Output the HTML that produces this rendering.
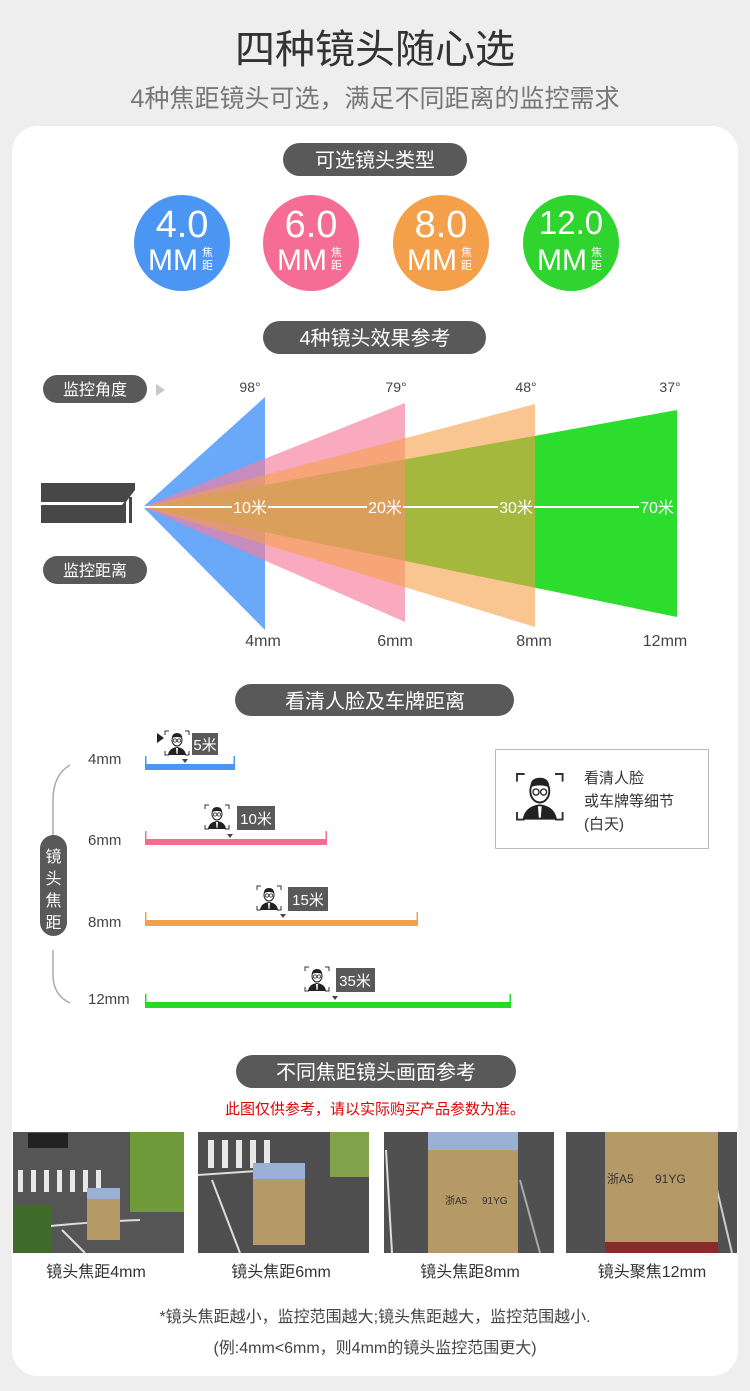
<!DOCTYPE html>
<html><head><meta charset="utf-8"><style>
html,body{margin:0;padding:0;background:#eeeeee;}
svg{display:block;}
text{font-family:"Liberation Sans","Noto Sans CJK SC",sans-serif;}
</style></head><body>
<svg width="750" height="1391" viewBox="0 0 750 1391" xmlns="http://www.w3.org/2000/svg">
<rect x="0" y="0" width="750" height="1391" fill="#eeeeee"/>
<text x="375" y="63" font-size="40" fill="#333" text-anchor="middle">四种镜头随心选</text>
<text x="375" y="107" font-size="25" fill="#777" text-anchor="middle">4种焦距镜头可选，满足不同距离的监控需求</text>
<rect x="12" y="126" width="726" height="1250" rx="26" fill="#fff"/>

<rect x="283" y="143" width="184" height="33" rx="16.5" fill="#595959"/>
<text x="375" y="167" font-size="20" fill="#fff" text-anchor="middle">可选镜头类型</text>
<g fill="#fff">
<circle cx="182" cy="243" r="48" fill="#4b96f3"/>
<circle cx="311" cy="243" r="48" fill="#f56d94"/>
<circle cx="441" cy="243" r="48" fill="#f4a04b"/>
<circle cx="571" cy="243" r="48" fill="#2fd42f"/>
<text x="182" y="237" font-size="38" text-anchor="middle">4.0</text>
<text x="311" y="237" font-size="38" text-anchor="middle">6.0</text>
<text x="441" y="237" font-size="38" text-anchor="middle">8.0</text>
<text x="571" y="234" font-size="33" text-anchor="middle">12.0</text>
<text x="148" y="270" font-size="30">MM</text><text x="202" y="256" font-size="11">焦</text><text x="202" y="269" font-size="11">距</text>
<text x="277" y="270" font-size="30">MM</text><text x="331" y="256" font-size="11">焦</text><text x="331" y="269" font-size="11">距</text>
<text x="407" y="270" font-size="30">MM</text><text x="461" y="256" font-size="11">焦</text><text x="461" y="269" font-size="11">距</text>
<text x="537" y="270" font-size="30">MM</text><text x="591" y="256" font-size="11">焦</text><text x="591" y="269" font-size="11">距</text>
</g>

<rect x="263" y="321" width="223" height="33" rx="16.5" fill="#595959"/>
<text x="375" y="345" font-size="20" fill="#fff" text-anchor="middle">4种镜头效果参考</text>

<rect x="43" y="375" width="104" height="28" rx="14" fill="#595959"/>
<text x="95" y="395" font-size="16" fill="#fff" text-anchor="middle">监控角度</text>
<polygon points="156,384 165,390 156,396" fill="#c8c8c8"/>
<rect x="43" y="556" width="104" height="28" rx="14" fill="#595959"/>
<text x="95" y="576" font-size="16" fill="#fff" text-anchor="middle">监控距离</text>
<polygon points="41,483 135,483 135,490 126,502 41,502" fill="#474747"/>
<polygon points="41,505 122,505 126,500 126,523 41,523" fill="#474747"/>
<rect x="129" y="497" width="3" height="26" fill="#474747"/>

<polygon points="143,507 265,397 265,630" fill="#6aa9fa"/>
<polygon points="143,507 677,410 677,617" fill="#2ddd2d"/>
<polygon points="143,507 405,403 405,622" fill="#f77c9c" fill-opacity="0.65"/>
<polygon points="143,507 535,404 535,627" fill="#f5a04a" fill-opacity="0.6"/>
<g stroke="#fff" stroke-width="2">
<line x1="143" y1="507" x2="232" y2="507"/><line x1="268" y1="507" x2="367" y2="507"/>
<line x1="403" y1="507" x2="498" y2="507"/><line x1="534" y1="507" x2="639" y2="507"/>
</g>
<g font-size="16" fill="#fff" text-anchor="middle">
<text x="250" y="513">10米</text><text x="385" y="513">20米</text><text x="516" y="513">30米</text><text x="657" y="513">70米</text>
</g>
<g font-size="14" fill="#444" text-anchor="middle">
<text x="250" y="392">98°</text><text x="396" y="392">79°</text><text x="526" y="392">48°</text><text x="670" y="392">37°</text>
</g>
<g font-size="16" fill="#444" text-anchor="middle">
<text x="263" y="646">4mm</text><text x="395" y="646">6mm</text><text x="534" y="646">8mm</text><text x="665" y="646">12mm</text>
</g>

<rect x="235" y="684" width="279" height="32" rx="16" fill="#595959"/>
<text x="375" y="708" font-size="20" fill="#fff" text-anchor="middle">看清人脸及车牌距离</text>

<path d="M70,765 Q53,775 53,800 L53,856" stroke="#aaa" stroke-width="1.5" fill="none"/>
<path d="M53,950 L53,975 Q53,995 70,1003" stroke="#aaa" stroke-width="1.5" fill="none"/>
<rect x="40" y="835" width="27" height="101" rx="13.5" fill="#595959"/>
<g font-size="16" fill="#fff" text-anchor="middle">
<text x="53.5" y="862">镜</text><text x="53.5" y="884">头</text><text x="53.5" y="906">焦</text><text x="53.5" y="928">距</text>
</g>
<g font-size="15" fill="#444">
<text x="88" y="764">4mm</text><text x="88" y="845">6mm</text><text x="88" y="927">8mm</text><text x="88" y="1004">12mm</text>
</g>
<rect x="145" y="764" width="90" height="6" fill="#4b96f3"/><rect x="145" y="756" width="1.5" height="14" fill="#4b96f3"/><rect x="233.5" y="756" width="1.5" height="14" fill="#4b96f3"/>
<rect x="145" y="839" width="182" height="6" fill="#f56d8d"/><rect x="145" y="831" width="1.5" height="14" fill="#f56d8d"/><rect x="325.5" y="831" width="1.5" height="14" fill="#f56d8d"/>
<rect x="145" y="920" width="273" height="6" fill="#f4a04b"/><rect x="145" y="912" width="1.5" height="14" fill="#f4a04b"/><rect x="416.5" y="912" width="1.5" height="14" fill="#f4a04b"/>
<rect x="145" y="1002" width="366" height="6" fill="#2ad62a"/><rect x="145" y="994" width="1.5" height="14" fill="#2ad62a"/><rect x="509.5" y="994" width="1.5" height="14" fill="#2ad62a"/>

<defs>
<g id="face">
<path d="M0,4 V0 H4 M20,0 H24 V4 M24,20 V24 H20 M4,24 H0 V20" stroke="#333" stroke-width="1" fill="none"/>
<ellipse cx="12" cy="9" rx="5" ry="6" fill="#fff" stroke="#222" stroke-width="1"/>
<path d="M7,7 Q7,2 12,2 Q17,2 17,7 Q12,5 7,7Z" fill="#222"/>
<circle cx="10" cy="9.5" r="1.6" fill="none" stroke="#222" stroke-width="0.7"/>
<circle cx="14" cy="9.5" r="1.6" fill="none" stroke="#222" stroke-width="0.7"/>
<path d="M3,24 Q4,17 12,16 Q20,17 21,24Z" fill="#222"/>
<path d="M11,17 L13,17 L12.5,23 L11.5,23Z" fill="#fff"/>
</g>
</defs>
<use href="#face" x="165" y="731"/><rect x="192" y="733" width="26" height="22" fill="#595959"/><text x="205" y="750" font-size="15" fill="#fff" text-anchor="middle">5米</text>
<polygon points="157,733 164,738 157,743" fill="#222"/><polygon points="182,759 188,759 185,763" fill="#444"/>
<use href="#face" x="205" y="805"/><rect x="237" y="806" width="38" height="24" fill="#595959"/><text x="256" y="824" font-size="15" fill="#fff" text-anchor="middle">10米</text>
<polygon points="227,834 233,834 230,838" fill="#444"/>
<use href="#face" x="257" y="886"/><rect x="288" y="887" width="40" height="24" fill="#595959"/><text x="308" y="905" font-size="15" fill="#fff" text-anchor="middle">15米</text>
<polygon points="280,914 286,914 283,918" fill="#444"/>
<use href="#face" x="305" y="967"/><rect x="336" y="968" width="39" height="24" fill="#595959"/><text x="355" y="986" font-size="15" fill="#fff" text-anchor="middle">35米</text>
<polygon points="332,996 338,996 335,1000" fill="#444"/>

<rect x="495.5" y="749.5" width="213" height="99" fill="#fff" stroke="#bbb"/>
<g transform="translate(517,774) scale(1.9)"><use href="#face"/></g>
<g font-size="15" fill="#333"><text x="584" y="783">看清人脸</text><text x="584" y="806">或车牌等细节</text><text x="584" y="829">(白天)</text></g>

<rect x="236" y="1055" width="280" height="33" rx="16.5" fill="#595959"/>
<text x="376" y="1079" font-size="20" fill="#fff" text-anchor="middle">不同焦距镜头画面参考</text>
<text x="375" y="1114" font-size="15" fill="#e00000" text-anchor="middle">此图仅供参考，请以实际购买产品参数为准。</text>

<rect x="13" y="1132" width="171" height="121" fill="#555"/>
<g fill="#e8e8e8"><rect x="18" y="1170" width="5" height="22"/><rect x="31" y="1170" width="5" height="22"/><rect x="44" y="1170" width="5" height="22"/><rect x="57" y="1170" width="5" height="22"/><rect x="70" y="1170" width="5" height="22"/><rect x="83" y="1170" width="5" height="22"/><rect x="96" y="1170" width="5" height="22"/></g>
<path d="M13,1230 Q80,1222 140,1220" stroke="#ddd" stroke-width="2" fill="none"/>
<path d="M62,1230 L85,1253" stroke="#ddd" stroke-width="2"/>
<rect x="28" y="1133" width="40" height="15" fill="#222"/>
<rect x="130" y="1132" width="54" height="80" fill="#6f9a3a"/>
<rect x="13" y="1205" width="38" height="48" fill="#3f6b2a"/>
<rect x="87" y="1188" width="33" height="12" fill="#9ab0d5"/>
<rect x="87" y="1199" width="33" height="41" fill="#b59a68"/>
<rect x="198" y="1132" width="171" height="121" fill="#4e4e4e"/>
<g fill="#e8e8e8"><rect x="208" y="1140" width="6" height="28"/><rect x="222" y="1140" width="6" height="28"/><rect x="236" y="1140" width="6" height="28"/><rect x="250" y="1140" width="6" height="28"/><rect x="264" y="1140" width="6" height="28"/></g>
<path d="M198,1175 L300,1168" stroke="#ddd" stroke-width="2"/>
<path d="M212,1180 L240,1253" stroke="#ddd" stroke-width="2"/>
<rect x="330" y="1132" width="39" height="45" fill="#7fa24a"/>
<rect x="253" y="1163" width="52" height="16" fill="#9ab0d5"/>
<rect x="253" y="1179" width="52" height="66" fill="#b59a68"/>
<rect x="384" y="1132" width="170" height="121" fill="#505050"/>
<path d="M386,1150 L392,1253" stroke="#ddd" stroke-width="2"/>
<path d="M520,1180 L540,1253" stroke="#aaa" stroke-width="2"/>
<rect x="428" y="1132" width="90" height="18" fill="#9ab0d5"/>
<rect x="428" y="1150" width="90" height="103" fill="#b59a68"/>
<text x="445" y="1204" font-size="10" fill="#333">浙A5</text><text x="482" y="1204" font-size="10" fill="#333">91YG</text>
<rect x="566" y="1132" width="171" height="121" fill="#505050"/>
<path d="M710,1160 L732,1253" stroke="#ccc" stroke-width="2"/>
<rect x="605" y="1132" width="113" height="110" fill="#b59a68"/>
<rect x="605" y="1242" width="113" height="11" fill="#8a2a2a"/>
<text x="607" y="1183" font-size="12" fill="#333">浙A5</text><text x="655" y="1183" font-size="12" fill="#333">91YG</text>

<g font-size="16" fill="#333" text-anchor="middle">
<text x="96" y="1277">镜头焦距4mm</text><text x="281" y="1277">镜头焦距6mm</text><text x="470" y="1277">镜头焦距8mm</text><text x="652" y="1277">镜头聚焦12mm</text>
</g>
<g font-size="16" fill="#444" text-anchor="middle">
<text x="375" y="1322">*镜头焦距越小，监控范围越大;镜头焦距越大，监控范围越小.</text>
<text x="375" y="1353">(例:4mm&lt;6mm，则4mm的镜头监控范围更大)</text>
</g>
</svg>
</body></html>
